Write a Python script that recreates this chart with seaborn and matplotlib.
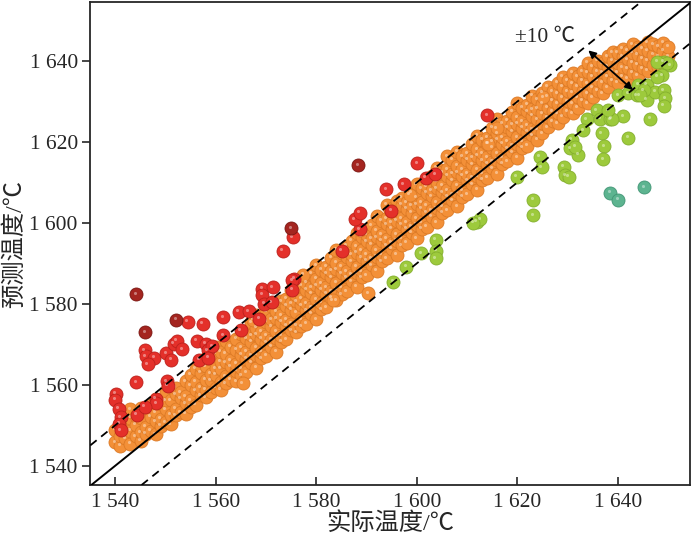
import matplotlib
matplotlib.use("Agg")
import matplotlib.pyplot as plt
from matplotlib.transforms import offset_copy
import seaborn as sns
import pandas as pd

# actual temperature (x) per column of the dense orange band, and the predicted values in that column
orange_actual = list(range(1540, 1651))
orange_pred = [
    [1545.8, 1548.9], [1544.9, 1547.2, 1550.6], [1546.8, 1549.3], [1545.4, 1548.6, 1551.8, 1553.9],
    [1547.3, 1550.1, 1552.2], [1546.1, 1548.2, 1551.7, 1554.3], [1547.9, 1549.6, 1553.4], [1548.6, 1552.1, 1554.9],
    [1547.7, 1550.9, 1553.2, 1556.4], [1549.9, 1551.6, 1555.3], [1550.7, 1553.9, 1556.2, 1558.5],
    [1550.2, 1552.6, 1556.1], [1552.4, 1554.1, 1557.6, 1559.2], [1553.2, 1556.7, 1558.1],
    [1552.8, 1555.4, 1557.1, 1560.9], [1554.6, 1556.2, 1559.8, 1562.4], [1555.1, 1558.6, 1560.7, 1563.9],
    [1557.4, 1559.2, 1562.9, 1564.6], [1556.9, 1558.7, 1561.2, 1564.5, 1566.6], [1558.3, 1561.1, 1562.7, 1566.4],
    [1559.2, 1562.4, 1564.1, 1567.8, 1569.3], [1558.8, 1560.6, 1563.9, 1565.7, 1568.2],
    [1560.4, 1562.1, 1565.6, 1567.6, 1570.9], [1561.2, 1564.5, 1566.1, 1569.4],
    [1560.9, 1563.4, 1565.2, 1568.6, 1571.3], [1562.3, 1564.1, 1567.4, 1569.1, 1572.6],
    [1563.1, 1566.4, 1568.2, 1571.5, 1573.2], [1565.4, 1567.1, 1570.6, 1572.2, 1575.4],
    [1564.2, 1567.4, 1569.1, 1572.5, 1574.1, 1577.3], [1566.5, 1568.2, 1571.4, 1573.1, 1576.6],
    [1567.1, 1570.4, 1572.1, 1575.6, 1578.2], [1569.4, 1571.1, 1574.5, 1576.2, 1579.4],
    [1568.2, 1571.6, 1573.2, 1576.4, 1578.1], [1570.6, 1572.1, 1575.5, 1577.2, 1580.6],
    [1571.2, 1574.6, 1576.1, 1579.5, 1581.2], [1573.4, 1575.1, 1578.5, 1580.1, 1583.5],
    [1572.9, 1574.6, 1577.9, 1580.6, 1582.1, 1585.6], [1574.5, 1576.1, 1579.6, 1581.2, 1584.5],
    [1575.1, 1578.4, 1580.1, 1583.5, 1585.2], [1577.5, 1579.2, 1582.6, 1584.1, 1587.4],
    [1576.2, 1579.5, 1581.1, 1584.6, 1586.2, 1589.5], [1578.6, 1580.2, 1583.5, 1585.1, 1588.4],
    [1579.1, 1582.5, 1584.1, 1587.5, 1589.2], [1581.5, 1583.1, 1586.6, 1588.2, 1591.4],
    [1580.9, 1583.6, 1585.2, 1588.5, 1590.1, 1593.4], [1582.4, 1584.1, 1587.5, 1589.1, 1592.6],
    [1583.1, 1586.5, 1588.1, 1591.6, 1594.3], [1585.6, 1587.2, 1590.5, 1592.1, 1595.6],
    [1584.2, 1587.5, 1589.1, 1592.6, 1594.2, 1597.5], [1586.6, 1588.1, 1591.5, 1593.2, 1596.6],
    [1587.1, 1590.6, 1592.2, 1595.5, 1597.1], [1589.5, 1591.1, 1594.6, 1596.2, 1599.4],
    [1588.2, 1591.6, 1593.2, 1596.5, 1598.1, 1601.6], [1590.5, 1592.1, 1595.6, 1597.1, 1600.5],
    [1591.2, 1594.5, 1596.1, 1599.6, 1601.2, 1604.5], [1593.6, 1595.1, 1598.5, 1600.1, 1603.6],
    [1592.1, 1595.6, 1597.2, 1600.5, 1602.1, 1605.5], [1594.5, 1596.2, 1599.6, 1601.1, 1604.5, 1606.2],
    [1595.1, 1598.5, 1600.1, 1603.5, 1605.1], [1597.6, 1599.1, 1602.5, 1604.2, 1607.6],
    [1596.2, 1599.5, 1601.1, 1604.6, 1606.2, 1609.5], [1598.6, 1600.1, 1603.5, 1605.1, 1608.6],
    [1599.1, 1602.6, 1604.2, 1607.5, 1609.1], [1601.5, 1603.1, 1606.6, 1608.1, 1611.5],
    [1600.2, 1603.6, 1605.1, 1608.5, 1610.2, 1613.6], [1602.5, 1604.1, 1607.6, 1609.2, 1612.5],
    [1603.1, 1606.5, 1608.1, 1611.6, 1613.2, 1616.5], [1605.6, 1607.1, 1610.5, 1612.1, 1615.6],
    [1604.1, 1607.6, 1609.2, 1612.5, 1614.1, 1617.6], [1606.5, 1608.1, 1611.6, 1613.2, 1616.5],
    [1607.1, 1610.5, 1612.1, 1615.6, 1617.2], [1609.6, 1611.2, 1614.5, 1616.1, 1619.5],
    [1608.2, 1611.5, 1613.1, 1616.6, 1618.2, 1621.5], [1610.6, 1612.1, 1615.5, 1617.2, 1620.6],
    [1611.1, 1614.6, 1616.2, 1619.5, 1621.1], [1613.5, 1615.1, 1618.6, 1620.2, 1623.5],
    [1612.1, 1615.6, 1617.2, 1620.5, 1622.1, 1625.6], [1614.6, 1616.1, 1619.5, 1621.2, 1624.6],
    [1615.2, 1618.5, 1620.1, 1623.6, 1625.2], [1617.5, 1619.1, 1622.6, 1624.2, 1627.5],
    [1616.1, 1619.6, 1621.2, 1624.5, 1626.1, 1629.6], [1618.6, 1620.2, 1623.5, 1625.1, 1628.5],
    [1619.1, 1622.5, 1624.1, 1627.6, 1629.2], [1621.6, 1623.2, 1626.5, 1628.1, 1631.4],
    [1620.5, 1623.1, 1625.6, 1628.2, 1630.6], [1622.2, 1624.6, 1627.1, 1629.5, 1632.2],
    [1623.6, 1626.1, 1628.5, 1631.2, 1633.6], [1625.1, 1627.6, 1630.2, 1632.5],
    [1624.6, 1627.1, 1629.5, 1632.1, 1634.6], [1626.2, 1628.5, 1631.1, 1633.6, 1636.1],
    [1627.6, 1630.1, 1632.5, 1635.2], [1627.1, 1629.6, 1632.2, 1634.5, 1637.1],
    [1628.5, 1631.1, 1633.6, 1636.2], [1630.2, 1632.6, 1635.1, 1637.5],
    [1629.6, 1632.1, 1634.5, 1637.2, 1639.6], [1631.1, 1633.5, 1636.2, 1638.6],
    [1632.6, 1635.2, 1637.5, 1640.1], [1632.1, 1634.6, 1637.2, 1639.5],
    [1633.5, 1636.1, 1638.6, 1641.2], [1635.2, 1637.5, 1640.1, 1642.2],
    [1634.6, 1637.1, 1639.6, 1642.1], [1636.1, 1638.5, 1641.2, 1643.1],
    [1635.6, 1638.2, 1640.5, 1642.6], [1637.1, 1639.6, 1642.1, 1644.2],
    [1636.5, 1639.1, 1641.6, 1643.5], [1638.2, 1640.6, 1643.1],
    [1637.6, 1640.1, 1642.5, 1644.6], [1639.1, 1641.6, 1644.2],
    [1638.5, 1641.2, 1643.6], [1640.1, 1642.6, 1644.5], [1641.2, 1643.5],
]
# stray orange points outside the regular band edges
orange_extra_x = [1565.3, 1590.3, 1583.3, 1567.4, 1588.6, 1594.6, 1598.6, 1614.2, 1615.9, 1625.2, 1577.4]
orange_extra_y = [1560.4, 1582.6, 1580.9, 1576.1, 1598.2, 1603.1, 1606.9, 1619.6, 1623.4, 1631.0, 1587.2]

red_x = [1540.1, 1540.0, 1540.7, 1541.1, 1540.8, 1541.1, 1544.1, 1544.2, 1545.8, 1546.0, 1547.7, 1546.4,
         1550.1, 1551.1, 1551.6, 1552.2, 1553.3, 1554.4, 1550.2, 1548.0, 1548.1, 1545.8, 1557.4, 1556.2,
         1558.0, 1558.4, 1559.3, 1556.7, 1558.5, 1561.5, 1561.5, 1564.5, 1566.5, 1564.9, 1568.6, 1569.2,
         1569.2, 1571.3, 1569.6, 1571.1, 1575.6, 1573.3, 1575.3, 1575.2, 1575.2, 1585.0, 1588.6, 1587.6,
         1588.6, 1594.9, 1593.9, 1597.4, 1600.1, 1601.8, 1603.7, 1614.0, 1550.4]
red_y = [1557.7, 1556.3, 1554.0, 1552.0, 1550.3, 1548.7, 1560.6, 1552.6, 1568.5, 1567.0, 1566.6, 1565.0,
         1567.8, 1566.2, 1570.1, 1570.8, 1568.8, 1575.5, 1560.9, 1556.5, 1555.4, 1554.6, 1575.1, 1570.8,
         1570.1, 1568.5, 1569.5, 1566.2, 1566.7, 1576.7, 1572.2, 1578.0, 1578.2, 1573.4, 1576.3, 1583.7,
         1582.2, 1584.1, 1580.0, 1580.4, 1586.2, 1593.1, 1596.4, 1585.8, 1583.5, 1593.1, 1598.4, 1600.9,
         1602.5, 1603.0, 1608.3, 1609.5, 1614.8, 1611.1, 1612.0, 1626.6, 1559.7]
darkred_x = [1544.1, 1545.9, 1552.1, 1575.0, 1588.3]
darkred_y = [1582.3, 1573.0, 1576.1, 1598.7, 1614.3]

green_x = [1595.3, 1597.9, 1600.9, 1603.8, 1603.9, 1603.8, 1611.9, 1612.6, 1611.2, 1619.9, 1624.5, 1624.9,
           1623.2, 1623.2, 1629.2, 1629.5, 1630.2, 1630.5, 1630.8, 1632.1, 1631.5, 1633.8, 1633.1, 1636.8,
           1637.3, 1637.1, 1635.8, 1636.5, 1638.5, 1641.1, 1642.1, 1646.4, 1640.1, 1642.1, 1643.8, 1645.8,
           1645.8, 1647.4, 1649.1, 1649.4, 1649.1, 1648.8, 1650.4, 1649.1, 1647.8, 1644.1, 1645.2, 1638.8,
           1638.1, 1649.7, 1647.8, 1644.4]
green_y = [1585.5, 1589.2, 1592.5, 1595.8, 1593.1, 1591.2, 1600.3, 1600.9, 1600.0, 1611.4, 1616.4, 1613.7,
           1605.7, 1601.9, 1613.9, 1611.8, 1611.4, 1618.4, 1620.5, 1616.8, 1618.8, 1625.6, 1622.9, 1622.1,
           1619.0, 1615.7, 1627.9, 1625.8, 1625.6, 1626.4, 1621.1, 1625.8, 1631.6, 1632.0, 1631.6, 1630.4,
           1634.1, 1632.4, 1632.8, 1630.8, 1628.9, 1636.5, 1639.0, 1639.8, 1636.1, 1634.1, 1632.8, 1625.8,
           1627.9, 1639.4, 1639.8, 1631.6]
teal_x = [1638.5, 1640.1, 1645.3]
teal_y = [1607.5, 1605.7, 1608.8]

ticks = [1540, 1560, 1580, 1600, 1620, 1640]
tick_labels = ["1 540", "1 560", "1 580", "1 600", "1 620", "1 640"]
band = 10

ox, oy = [], []
for xv, ys in zip(orange_actual, orange_pred):
    for yv in ys:
        ox.append(xv)
        oy.append(yv)
ox += orange_extra_x
oy += orange_extra_y

sns.set_style("ticks")
plt.rcParams['font.family'] = ['Liberation Serif', 'Noto Sans CJK SC']
plt.rcParams['axes.unicode_minus'] = False

fig = plt.figure(figsize=(7, 5.41), dpi=100)
ax = fig.add_axes([0.129, 0.1035, 0.857, 0.8928])

# ball-like markers: filled circle + small soft highlight
hl = offset_copy(ax.transData, fig=fig, x=-1.5, y=1.5, units='dots')


def balls(x, y, face, edge):
    df = pd.DataFrame({'x': x, 'y': y})
    sns.scatterplot(data=df, x='x', y='y', color=face, edgecolor=edge, linewidth=0.6, s=88, ax=ax, zorder=3)
    ax.scatter(df['x'], df['y'], s=5, color='white', alpha=0.4, lw=0, transform=hl, zorder=3)


balls(ox, oy, '#F39038', '#DC7A26')
balls(red_x, red_y, '#E4302A', '#BC211C')
balls(darkred_x, darkred_y, '#A42520', '#7A1712')
balls(green_x, green_y, '#9DCA3C', '#84AF2E')
balls(teal_x, teal_y, '#5DB490', '#419575')

ax.axline((1540, 1540), slope=1, color='black', lw=1.4, zorder=4)
ax.axline((1540, 1540 + band), slope=1, color='black', lw=1.3, ls=(0, (4.5, 3.2)), zorder=4)
ax.axline((1540, 1540 - band), slope=1, color='black', lw=1.3, ls=(0, (4.5, 3.2)), zorder=4)

ax.annotate('', xy=(1643.4, 1632.4), xytext=(1633.7, 1643.1),
            arrowprops=dict(arrowstyle='<|-|>', color='black', lw=1.3, mutation_scale=11), zorder=5)
ax.text(1625.5, 1645.8, '±10 ℃', fontsize=15.5, ha='center', va='center')

ax.set_xlim(1535, 1654.4)
ax.set_ylim(1535.2, 1654.6)
ax.set_xticks(ticks)
ax.set_xticklabels(tick_labels)
ax.set_yticks(ticks)
ax.set_yticklabels(tick_labels)
ax.tick_params(axis='x', direction='in', length=6, width=1.2, labelsize=15.5, pad=6)
ax.tick_params(axis='y', direction='out', length=6, width=1.2, labelsize=15.5, pad=3)
for sp in ax.spines.values():
    sp.set_visible(True)
    sp.set_linewidth(1.3)
ax.set_xlabel('实际温度/℃', fontsize=17.5, labelpad=0)
ax.set_ylabel('预测温度/℃', fontsize=17.5, labelpad=2)

fig.savefig('out.png', dpi=100)
